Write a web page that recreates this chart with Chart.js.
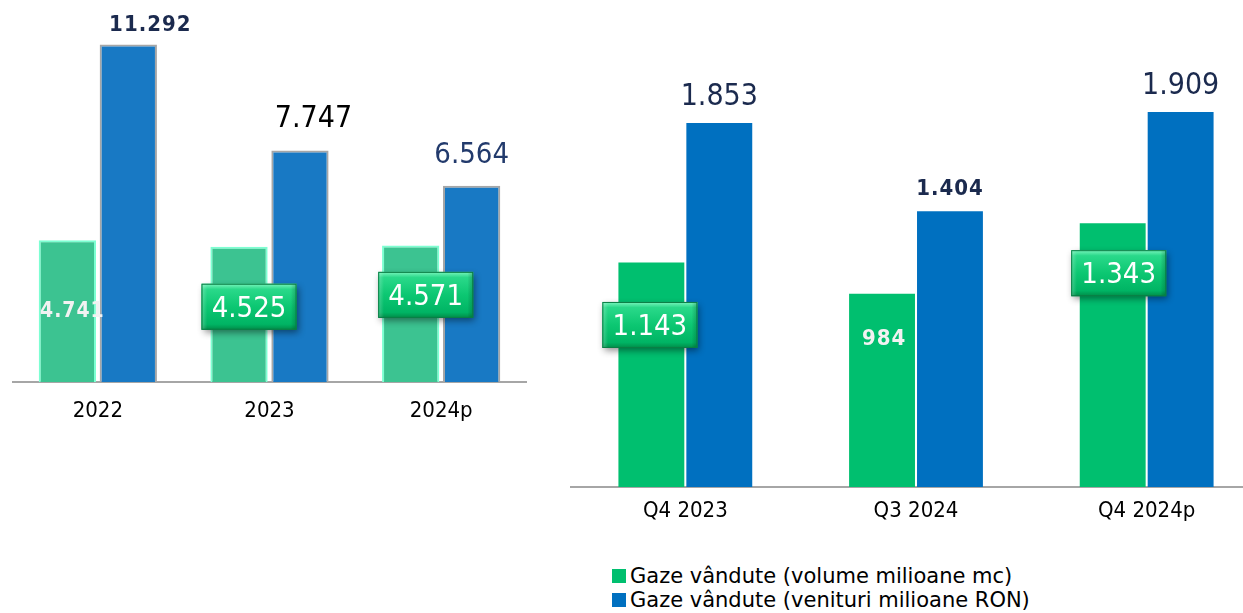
<!DOCTYPE html>
<html>
<head>
<meta charset="utf-8">
<script src="https://cdn.jsdelivr.net/npm/chart.js@4.4.1/dist/chart.umd.min.js"></script>
<style>
html,body{margin:0;padding:0;background:#fff;width:1243px;height:613px;overflow:hidden;position:relative;}
#left{position:absolute;left:12px;top:0;width:515px;height:422px;}
#right{position:absolute;left:570px;top:40px;width:692px;height:487px;}
#legend{position:absolute;left:612px;top:564px;font-family:'DejaVu Sans',sans-serif;font-size:21px;color:#000;line-height:24px;}
.item{display:flex;align-items:center;white-space:nowrap;}
.sw{width:14px;height:14px;margin-right:4px;display:inline-block;}
</style>
</head>
<body>
<div id="left"><canvas id="c1"></canvas></div>
<div id="right"><canvas id="c2"></canvas></div>
<div id="legend"></div>
<script>
// ---- data ----
const yearCategories = ['2022', '2023', '2024p'];
const yearVolume = [4741, 4525, 4571];
const yearRevenue = [11292, 7747, 6564];

const quarterCategories = ['Q4 2023', 'Q3 2024', 'Q4 2024p'];
const quarterVolume = [1143, 984, 1343];
const quarterRevenue = [1853, 1404, 1909];

const seriesNames = ['Gaze vândute (volume milioane mc)', 'Gaze vândute (venituri milioane RON)'];

// ---- styles ----
const COND = "'DejaVu Sans Condensed','DejaVu Sans',sans-serif";
const legendColors = ['#00bf6f', '#0070c0'];

function fmt(v) { return String(v).replace(/\B(?=(\d{3})+(?!\d))/g, '.'); }

function drawBox(ctx, cx, cy, w, h) {
  const x = cx - w / 2, y = cy - h / 2;
  ctx.save();
  ctx.shadowColor = 'rgba(0,0,0,0.45)';
  ctx.shadowBlur = 7;
  ctx.shadowOffsetX = 2;
  ctx.shadowOffsetY = 3;
  ctx.fillStyle = '#00a85a';
  ctx.fillRect(x, y, w, h);
  ctx.restore();
  const g = ctx.createLinearGradient(0, y, 0, y + h);
  g.addColorStop(0, '#7af5bd');
  g.addColorStop(0.12, '#2ad98a');
  g.addColorStop(0.5, '#0cc772');
  g.addColorStop(0.88, '#00b464');
  g.addColorStop(1, '#008c48');
  ctx.fillStyle = g;
  ctx.fillRect(x, y, w, h);
  // side bevels
  const gl = ctx.createLinearGradient(x, 0, x + w, 0);
  gl.addColorStop(0, 'rgba(255,255,255,0.25)');
  gl.addColorStop(0.06, 'rgba(255,255,255,0)');
  gl.addColorStop(0.94, 'rgba(0,0,0,0)');
  gl.addColorStop(1, 'rgba(0,60,30,0.25)');
  ctx.fillStyle = gl;
  ctx.fillRect(x, y, w, h);
  ctx.strokeStyle = '#0a7d45';
  ctx.lineWidth = 1;
  ctx.strokeRect(x + 0.5, y + 0.5, w - 1, h - 1);
}

const valueLabels = {
  id: 'valueLabels',
  afterDatasetsDraw(chart, args, opts) {
    const ctx = chart.ctx;
    opts.specs.forEach((row, di) => {
      const meta = chart.getDatasetMeta(di);
      row.forEach((spec, i) => {
        const bar = meta.data[i];
        const text = fmt(chart.data.datasets[di].data[i]);
        const x = bar.x + spec.dx;
        const y = bar.y + spec.dy;
        ctx.save();
        if (spec.box) drawBox(ctx, x, y, spec.box[0], spec.box[1]);
        ctx.font = spec.font;
        ctx.fillStyle = spec.color;
        ctx.textAlign = 'center';
        ctx.textBaseline = 'alphabetic';
        if (spec.ls) ctx.letterSpacing = spec.ls;
        ctx.fillText(text, x, y + spec.by);
        ctx.restore();
      });
    });
  }
};

function makeChart(id, cats, vol, rev, cfg) {
  return new Chart(document.getElementById(id), {
    type: 'bar',
    data: {
      labels: cats,
      datasets: [
        { label: seriesNames[0], data: vol, backgroundColor: cfg.green, borderColor: cfg.greenBorder, borderWidth: cfg.bw, borderSkipped: 'bottom' },
        { label: seriesNames[1], data: rev, backgroundColor: cfg.blue, borderColor: cfg.blueBorder, borderWidth: cfg.bw, borderSkipped: 'bottom' }
      ]
    },
    options: {
      responsive: true,
      maintainAspectRatio: false,
      animation: false,
      layout: { padding: 0 },
      categoryPercentage: cfg.cp,
      barPercentage: cfg.bp,
      plugins: { legend: { display: false }, tooltip: { enabled: false }, valueLabels: { specs: cfg.specs } },
      scales: {
        x: {
          grid: { display: false, drawTicks: false },
          border: { display: true, color: '#a6a6a6', width: 2 },
          ticks: { color: '#000', font: { family: COND, size: 22 }, padding: cfg.tickPad, maxRotation: 0 },
          afterFit(s) { s.height = 40; }
        },
        y: { display: false, min: 0, max: cfg.ymax }
      }
    },
    plugins: [valueLabels]
  });
}

const navy = '#1b2a4e';
makeChart('c1', yearCategories, yearVolume, yearRevenue, {
  green: '#3cc391', greenBorder: '#7dffd2', blue: '#1879c4', blueBorder: '#a6a6a6', bw: 2,
  cp: 0.71, bp: 0.94, ymax: 12781, tickPad: 16,
  specs: [
    [
      { dx: 5, dy: 0, by: 77, font: 'bold 21px ' + COND, color: '#f2f2f2', ls: '1px' },
      { dx: 10, dy: 60, by: 10, font: '29px ' + COND, color: '#ffffff', box: [95, 46] },
      { dx: 15, dy: 49.5, by: 10, font: '29px ' + COND, color: '#ffffff', box: [95, 46] }
    ],
    [
      { dx: 22, dy: 0, by: -14, font: 'bold 22px ' + COND, color: navy, ls: '1px' },
      { dx: 13.5, dy: 0, by: -23.5, font: '30px ' + COND, color: '#000000' },
      { dx: 0, dy: 0, by: -22.5, font: '29px ' + COND, color: '#223a6c' }
    ]
  ]
});

makeChart('c2', quarterCategories, quarterVolume, quarterRevenue, {
  green: '#00bf6f', greenBorder: '#ffffff', blue: '#0070c0', blueBorder: '#ffffff', bw: 0,
  cp: 0.589, bp: 0.97, ymax: 2275.5, tickPad: 11,
  specs: [
    [
      { dx: -1.5, dy: 62.5, by: 10, font: '29px ' + COND, color: '#ffffff', box: [95, 46] },
      { dx: 2, dy: 0, by: 51, font: 'bold 22px ' + COND, color: '#f2f2f2', ls: '1px' },
      { dx: 6, dy: 50, by: 10, font: '29px ' + COND, color: '#ffffff', box: [95, 46] }
    ],
    [
      { dx: 0, dy: 0, by: -18, font: '30px ' + COND, color: navy },
      { dx: 0, dy: 0, by: -16, font: 'bold 22px ' + COND, color: navy, ls: '1px' },
      { dx: 0, dy: 0, by: -18, font: '30px ' + COND, color: navy }
    ]
  ]
});

// legend (HTML, built from series names)
const lg = document.getElementById('legend');
seriesNames.forEach((n, i) => {
  const d = document.createElement('div');
  d.className = 'item';
  const s = document.createElement('span');
  s.className = 'sw';
  s.style.background = legendColors[i];
  d.appendChild(s);
  d.appendChild(document.createTextNode(n));
  lg.appendChild(d);
});
</script>
</body>
</html>
